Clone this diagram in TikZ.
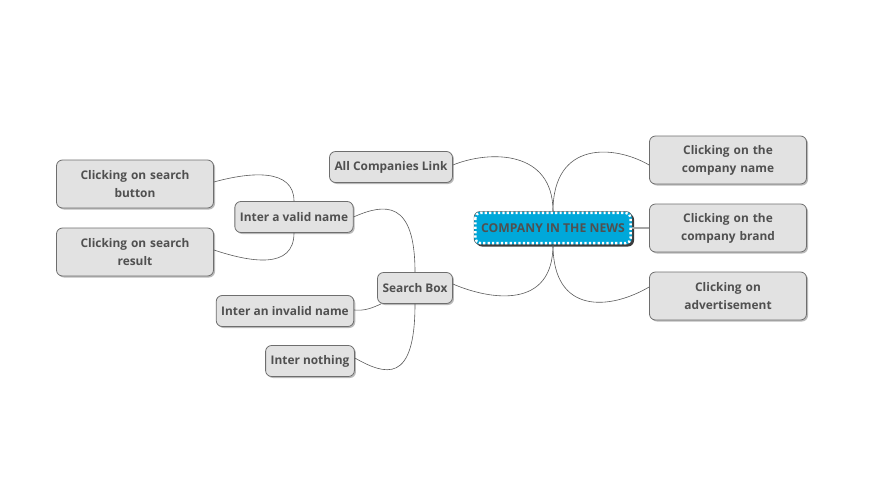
\documentclass[tikz,border=0pt]{standalone}
\usepackage{fontspec}
\setmainfont{Open Sans}
\usetikzlibrary{shadows}
\definecolor{boxfill}{HTML}{E2E2E2}
\definecolor{boxdraw}{HTML}{6E6E6E}
\definecolor{txt}{HTML}{505050}
\definecolor{hub}{HTML}{00A8DA}
\definecolor{wire}{HTML}{5A5A5A}
\begin{document}
\begin{tikzpicture}[x=1pt,y=-1pt,
  topic/.style={draw=boxdraw,line width=0.8pt,fill=boxfill,rounded corners=6pt,
    text=txt,font=\fontsize{11.9}{18}\selectfont\bfseries,align=center,
    drop shadow={shadow xshift=1.5pt,shadow yshift=-1.5pt,fill=black!45,opacity=0.6}},
  wide/.style={topic,minimum width=157pt,minimum height=48pt,text width=145pt},
  small/.style={topic,minimum height=31pt,inner xsep=5pt},
  link/.style={draw=wire,line width=0.6pt}]
\useasboundingbox (0,0) rectangle (887,493);
\node[draw=black!70,line width=0.5pt,fill=hub,rounded corners=6pt,minimum width=158pt,minimum height=33pt,
  text=txt,font=\fontsize{12.2}{14}\selectfont\bfseries,
  drop shadow={shadow xshift=2pt,shadow yshift=-2pt,fill=black!85,opacity=0.9}] (hub) at (553,228) {COMPANY IN THE NEWS};
\draw[white,line width=2.4pt,dash pattern=on 2.2pt off 2.2pt,rounded corners=5pt] ([xshift=1.6pt,yshift=-1.6pt]hub.north west) rectangle ([xshift=-1.6pt,yshift=1.6pt]hub.south east);
\node[small] (acl) at (391,167) {All Companies Link};
\node[wide] (cname) at (728,160) {Clicking on the\\company name};
\node[wide] (cbrand) at (728,228) {Clicking on the\\company brand};
\node[wide] (cadv) at (728,296) {Clicking on\\advertisement};
\node[small] (valid) at (294,217) {Inter a valid name};
\node[wide] (sbtn) at (135,184) {Clicking on search\\button};
\node[wide] (sres) at (135,252) {Clicking on search\\result};
\node[small] (sbox) at (415,288) {Search Box};
\node[small] (invalid) at (285,311) {Inter an invalid name};
\node[small] (nothing) at (310,361) {Inter nothing};
\draw[link] (hub.north) .. controls (553,150) and (490,150) .. ([yshift=2pt]acl.east);
\draw[link] (hub.north) .. controls (553,140) and (615,145) .. ([yshift=-5pt]cname.west);
\draw[draw=black!35,line width=1.2pt] (hub.east) -- (cbrand.west);
\draw[link] (hub.south) .. controls (553,315) and (610,310) .. ([yshift=9pt]cadv.west);
\draw[link] (hub.south) .. controls (553,310) and (490,300) .. ([yshift=4pt]sbox.east);
\draw[link] (sbox.north) .. controls (415,200) and (385,203) .. (valid.east);
\draw[link] ([xshift=4pt]sbox.south west) .. controls (372,308) and (365,311) .. ([yshift=1pt]invalid.east);
\draw[link] (sbox.south) .. controls (415,385) and (385,375) .. ([yshift=3pt]nothing.east);
\draw[link] (valid.north) .. controls (294,168) and (250,172) .. ([yshift=2pt]sbtn.east);
\draw[link] (valid.south) .. controls (294,270) and (250,262) .. ([yshift=2pt]sres.east);
\end{tikzpicture}
\end{document}
